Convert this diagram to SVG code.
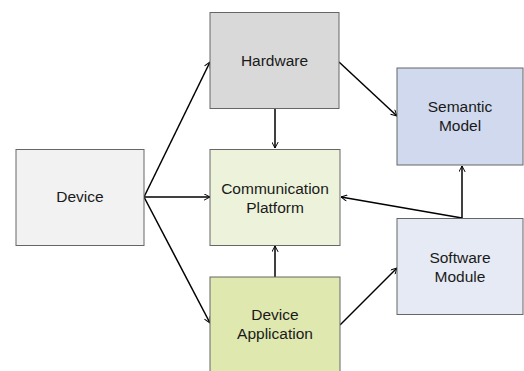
<svg xmlns="http://www.w3.org/2000/svg" width="524" height="371" viewBox="0 0 524 371">
  <style>
    .box { stroke: #666666; stroke-width: 1; }
    .lbl { font-family: "Liberation Sans", Arial, sans-serif; font-size: 15.5px; fill: #1a1a1a; text-anchor: middle; }
    .edge { fill: none; stroke: #000000; stroke-width: 1.5; marker-end: url(#arrow); }
  </style>
  <defs>
    <marker id="arrow" viewBox="0 0 10 10" refX="9.5" refY="5" markerWidth="7" markerHeight="7" markerUnits="userSpaceOnUse" orient="auto">
      <path d="M1,0.5 L9.5,5 L1,9.5" fill="none" stroke="#000000" stroke-width="1.4"/>
    </marker>
  </defs>

  <rect width="524" height="371" fill="#ffffff"/>

  <g id="connectors">
    <line class="edge" x1="144" y1="197" x2="210" y2="62"/>
    <line class="edge" x1="144" y1="197" x2="210" y2="197"/>
    <line class="edge" x1="144" y1="197" x2="210" y2="323"/>
    <line class="edge" x1="275" y1="108" x2="275" y2="148"/>
    <line class="edge" x1="339" y1="62" x2="397" y2="116"/>
    <line class="edge" x1="275" y1="277" x2="275" y2="246"/>
    <line class="edge" x1="340" y1="325" x2="397" y2="268"/>
    <line class="edge" x1="462" y1="218" x2="462" y2="166"/>
    <line class="edge" x1="462" y1="218" x2="341" y2="197"/>
  </g>

  <g id="device">
    <rect class="box" x="16" y="149.5" width="128" height="96" fill="#f2f2f2" stroke="#333333"/>
    <text class="lbl" x="80" y="202">Device</text>
  </g>

  <g id="hardware">
    <rect class="box" x="210" y="12.5" width="129" height="96" fill="#d9d9d9"/>
    <text class="lbl" x="274.5" y="66">Hardware</text>
  </g>

  <g id="communication-platform">
    <rect class="box" x="210" y="149.5" width="130" height="96" fill="#edf3da"/>
    <text class="lbl" x="275" y="193.5">Communication</text>
    <text class="lbl" x="275" y="212.5">Platform</text>
  </g>

  <g id="device-application">
    <rect class="box" x="210" y="277" width="130" height="96" fill="#dfe8af"/>
    <text class="lbl" x="275" y="320">Device</text>
    <text class="lbl" x="275" y="339">Application</text>
  </g>

  <g id="semantic-model">
    <rect class="box" x="397" y="68" width="126" height="97" fill="#d0d9ed"/>
    <text class="lbl" x="460" y="111.5">Semantic</text>
    <text class="lbl" x="460" y="130.5">Model</text>
  </g>

  <g id="software-module">
    <rect class="box" x="397" y="218.5" width="126" height="96" fill="#e6eaf4"/>
    <text class="lbl" x="460" y="263">Software</text>
    <text class="lbl" x="460" y="282">Module</text>
  </g>
</svg>
